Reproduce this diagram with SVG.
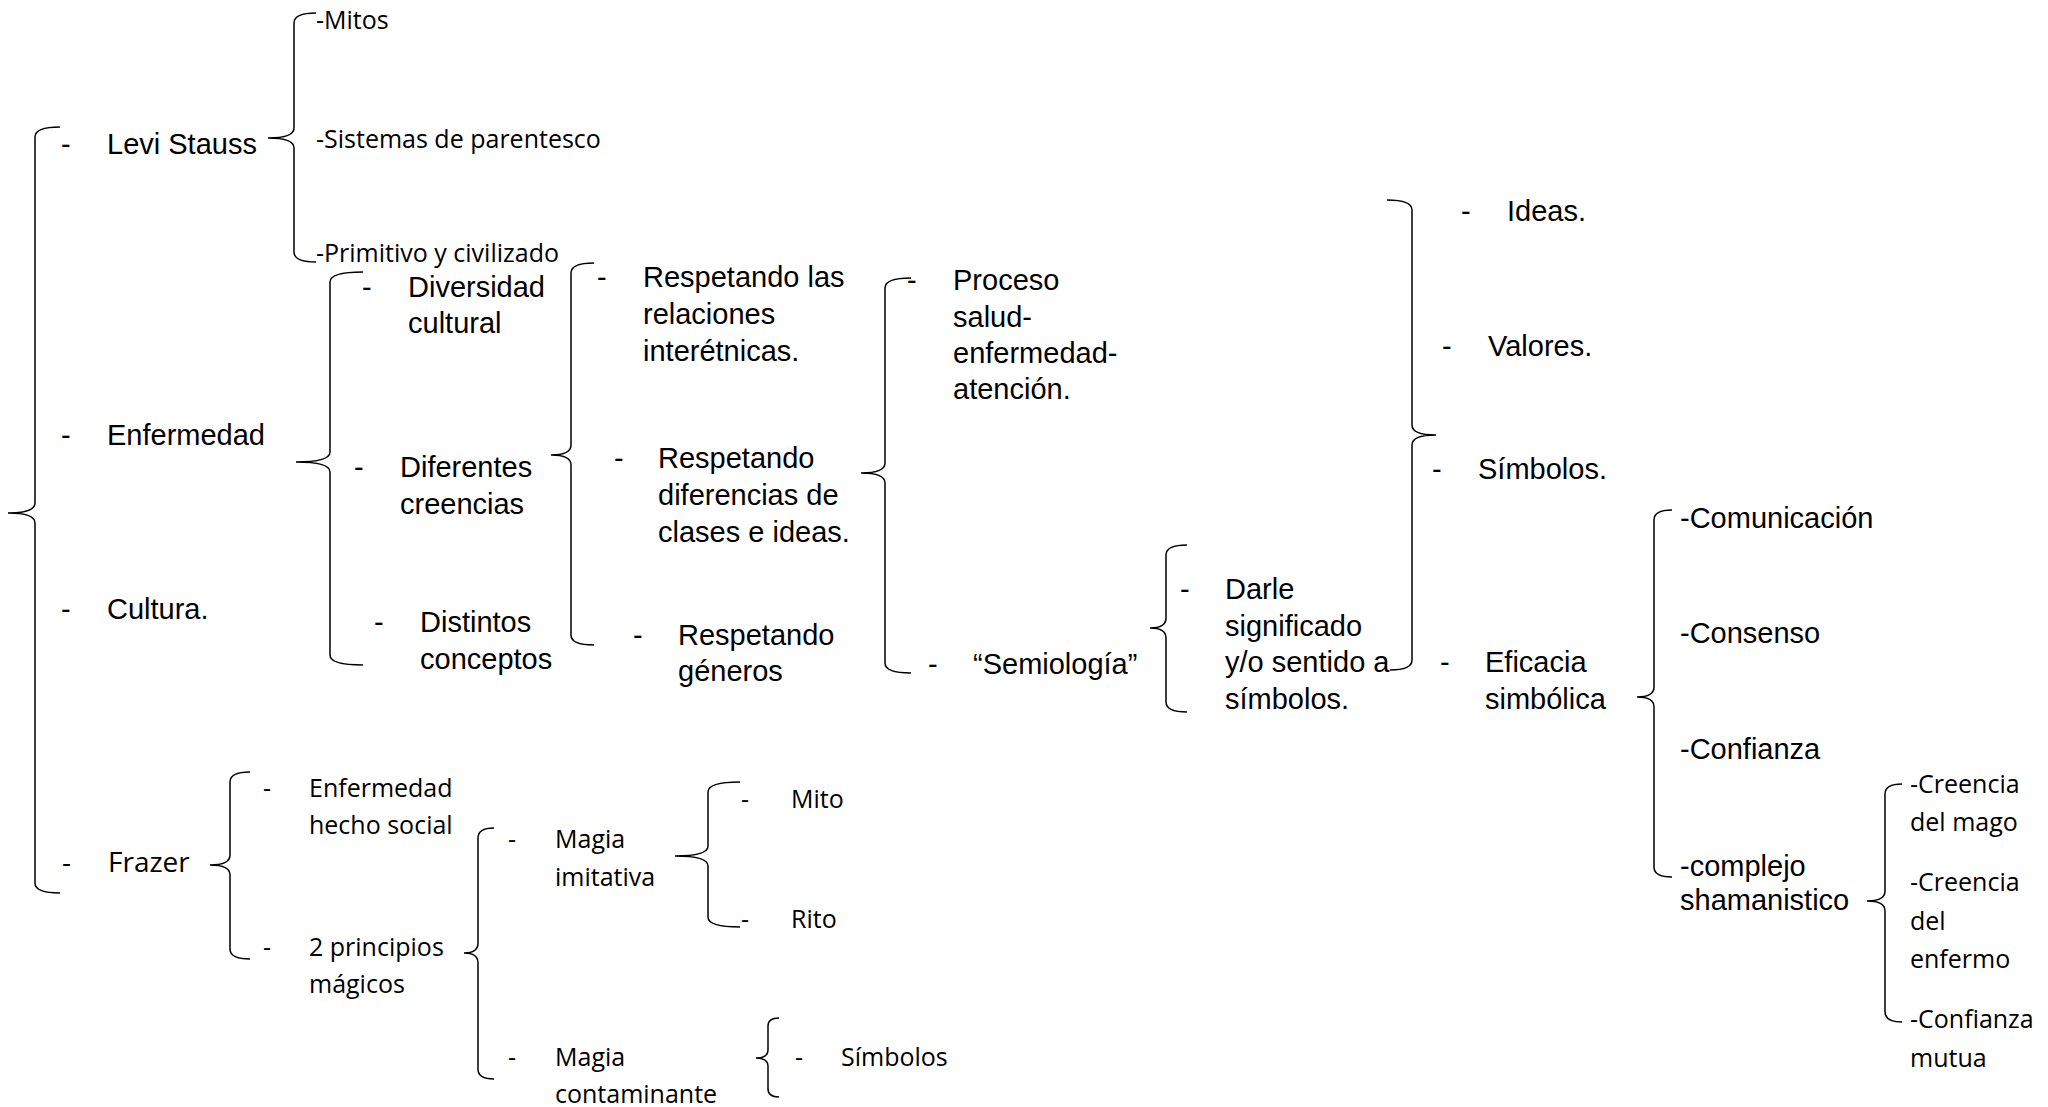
<svg xmlns="http://www.w3.org/2000/svg" width="2048" height="1107" viewBox="0 0 2048 1107">
<style>
.a{font-family:"Liberation Sans",Arial,sans-serif;font-size:29px;fill:#000}
.c{font-family:"Open Sans","Noto Sans",sans-serif;font-size:25px;fill:#000}
.cf{font-family:"Open Sans","Noto Sans",sans-serif;font-size:28px;fill:#000}
.br{fill:none;stroke:#000;stroke-width:1.5}
</style>
<rect width="2048" height="1107" fill="#fff"/>
<g id="connectors">
<path class="br" d="M60,127 Q35,127 35,137 L35,503 Q35,513 8,513 Q35,513 35,523 L35,883 Q35,893 60,893"/>
<path class="br" d="M316,13 Q294,13 294,23 L294,128 Q294,138 268,138 Q294,138 294,148 L294,252 Q294,262 316,262"/>
<path class="br" d="M363,272 Q330,272 330,282 L330,452 Q330,462 296,462 Q330,462 330,472 L330,655 Q330,665 363,665"/>
<path class="br" d="M594,263 Q571,263 571,273 L571,445 Q571,455 551,455 Q571,455 571,465 L571,635 Q571,645 594,645"/>
<path class="br" d="M911,278 Q885,278 885,288 L885,463 Q885,473 861,473 Q885,473 885,483 L885,663 Q885,673 911,673"/>
<path class="br" d="M1187,545 Q1166,545 1166,555 L1166,618 Q1166,628 1150,628 Q1166,628 1166,638 L1166,702 Q1166,712 1187,712"/>
<path class="br" d="M1387,200 Q1412,200 1412,210 L1412,425 Q1412,435 1436,435 Q1412,435 1412,445 L1412,660 Q1412,670 1390,670"/>
<path class="br" d="M1672,510 Q1654,510 1654,520 L1654,687 Q1654,697 1637,697 Q1654,697 1654,707 L1654,867 Q1654,877 1672,877"/>
<path class="br" d="M1902,784 Q1885,784 1885,794 L1885,891 Q1885,901 1867,901 Q1885,901 1885,911 L1885,1012 Q1885,1022 1902,1022"/>
<path class="br" d="M250,772 Q230,772 230,782 L230,855 Q230,865 210,865 Q230,865 230,875 L230,949 Q230,959 250,959"/>
<path class="br" d="M494,828 Q478,828 478,838 L478,943 Q478,953 464,953 Q478,953 478,963 L478,1069 Q478,1079 494,1079"/>
<path class="br" d="M740,782 Q708,782 708,792 L708,846 Q708,856 675,856 Q708,856 708,866 L708,917 Q708,927 740,927"/>
<path class="br" d="M779,1018 Q768,1018 768,1026 L768,1050 Q768,1058 756,1058 Q768,1058 768,1066 L768,1089 Q768,1097 779,1097"/>
</g>
<g id="levi"><text class="a" x="61" y="154">-</text><text class="a" x="107" y="154">Levi Stauss</text></g>
<g id="enfermedad"><text class="a" x="61" y="445">-</text><text class="a" x="107" y="445">Enfermedad</text></g>
<g id="cultura"><text class="a" x="61" y="619">-</text><text class="a" x="107" y="619">Cultura.</text></g>
<g id="frazer"><text class="cf" x="62" y="872">-</text><text class="cf" x="108" y="872">Frazer</text></g>
<g id="mitos"><text class="c" x="316" y="29">-Mitos</text></g>
<g id="sistemas"><text class="c" x="316" y="148">-Sistemas de parentesco</text></g>
<g id="primitivo"><text class="c" x="316" y="262">-Primitivo y civilizado</text></g>
<g id="diversidad"><text class="a" x="362" y="297">-</text><text class="a" x="408" y="297">Diversidad</text><text class="a" x="408" y="333">cultural</text></g>
<g id="diferentes"><text class="a" x="354" y="477">-</text><text class="a" x="400" y="477">Diferentes</text><text class="a" x="400" y="514">creencias</text></g>
<g id="distintos"><text class="a" x="374" y="632">-</text><text class="a" x="420" y="632">Distintos</text><text class="a" x="420" y="669">conceptos</text></g>
<g id="resp-rel"><text class="a" x="597" y="287">-</text><text class="a" x="643" y="287">Respetando las</text><text class="a" x="643" y="324">relaciones</text><text class="a" x="643" y="361">interétnicas.</text></g>
<g id="resp-dif"><text class="a" x="614" y="468">-</text><text class="a" x="658" y="468">Respetando</text><text class="a" x="658" y="505">diferencias de</text><text class="a" x="658" y="542">clases e ideas.</text></g>
<g id="resp-gen"><text class="a" x="633" y="645">-</text><text class="a" x="678" y="645">Respetando</text><text class="a" x="678" y="681">géneros</text></g>
<g id="proceso"><text class="a" x="907" y="290">-</text><text class="a" x="953" y="290">Proceso</text><text class="a" x="953" y="327">salud-</text><text class="a" x="953" y="363">enfermedad-</text><text class="a" x="953" y="399">atención.</text></g>
<g id="semiologia"><text class="a" x="928" y="674">-</text><text class="a" x="973" y="674">“Semiología”</text></g>
<g id="darle"><text class="a" x="1180" y="599">-</text><text class="a" x="1225" y="599">Darle</text><text class="a" x="1225" y="636">significado</text><text class="a" x="1225" y="672">y/o sentido a</text><text class="a" x="1225" y="709">símbolos.</text></g>
<g id="ideas"><text class="a" x="1461" y="221">-</text><text class="a" x="1507" y="221">Ideas.</text></g>
<g id="valores"><text class="a" x="1442" y="356">-</text><text class="a" x="1488" y="356">Valores.</text></g>
<g id="simbolos"><text class="a" x="1432" y="479">-</text><text class="a" x="1478" y="479">Símbolos.</text></g>
<g id="eficacia"><text class="a" x="1440" y="672">-</text><text class="a" x="1485" y="672">Eficacia</text><text class="a" x="1485" y="709">simbólica</text></g>
<g id="comunicacion"><text class="a" x="1680" y="528">-Comunicación</text></g>
<g id="consenso"><text class="a" x="1680" y="643">-Consenso</text></g>
<g id="confianza"><text class="a" x="1680" y="759">-Confianza</text></g>
<g id="complejo"><text class="a" x="1680" y="876">-complejo</text><text class="a" x="1680" y="910">shamanistico</text></g>
<g id="creencia-mago"><text class="c" x="1910" y="793">-Creencia</text><text class="c" x="1910" y="831">del mago</text></g>
<g id="creencia-enfermo"><text class="c" x="1910" y="891">-Creencia</text><text class="c" x="1910" y="930">del</text><text class="c" x="1910" y="968">enfermo</text></g>
<g id="confianza-mutua"><text class="c" x="1910" y="1028">-Confianza</text><text class="c" x="1910" y="1067">mutua</text></g>
<g id="enf-hecho"><text class="c" x="263" y="797">-</text><text class="c" x="309" y="797">Enfermedad</text><text class="c" x="309" y="834">hecho social</text></g>
<g id="principios"><text class="c" x="263" y="956">-</text><text class="c" x="309" y="956">2 principios</text><text class="c" x="309" y="993">mágicos</text></g>
<g id="magia-imit"><text class="c" x="508" y="848">-</text><text class="c" x="555" y="848">Magia</text><text class="c" x="555" y="886">imitativa</text></g>
<g id="magia-cont"><text class="c" x="508" y="1066">-</text><text class="c" x="555" y="1066">Magia</text><text class="c" x="555" y="1103">contaminante</text></g>
<g id="mito"><text class="c" x="741" y="808">-</text><text class="c" x="791" y="808">Mito</text></g>
<g id="rito"><text class="c" x="741" y="928">-</text><text class="c" x="791" y="928">Rito</text></g>
<g id="simbolos2"><text class="c" x="795" y="1066">-</text><text class="c" x="841" y="1066">Símbolos</text></g>
</svg>
